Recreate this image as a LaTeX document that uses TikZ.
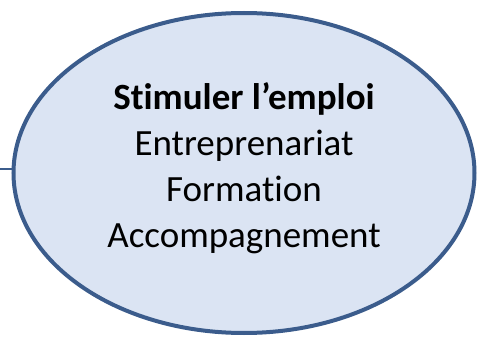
\documentclass[tikz,border=0pt]{standalone}
\usepackage{fontspec}
\setmainfont{Carlito}[Ligatures=NoCommon]
\usetikzlibrary{shapes.geometric}
\definecolor{bulle}{RGB}{219,228,243}
\definecolor{contour}{RGB}{59,92,140}

\begin{document}
\begin{tikzpicture}[x=1pt,y=1pt,
    pole/.style={ellipse, draw=contour, fill=bulle, line width=4pt,
      minimum width=461pt, minimum height=320pt, inner sep=0pt,
      text depth=16pt, align=center, font=\fontsize{37}{46}\selectfont}]
  \useasboundingbox (0,0) rectangle (485,338);
  %BULLE
  \node[pole] (emploi) at (244,165) {\textbf{Stimuler l’emploi}\\Entreprenariat\\Formation\\Accompagnement};
  %LIEN
  \coordinate (gauche) at (0,169);
  \draw[contour, line width=2pt] (gauche) -- (gauche -| emploi.west);
\end{tikzpicture}
\end{document}
